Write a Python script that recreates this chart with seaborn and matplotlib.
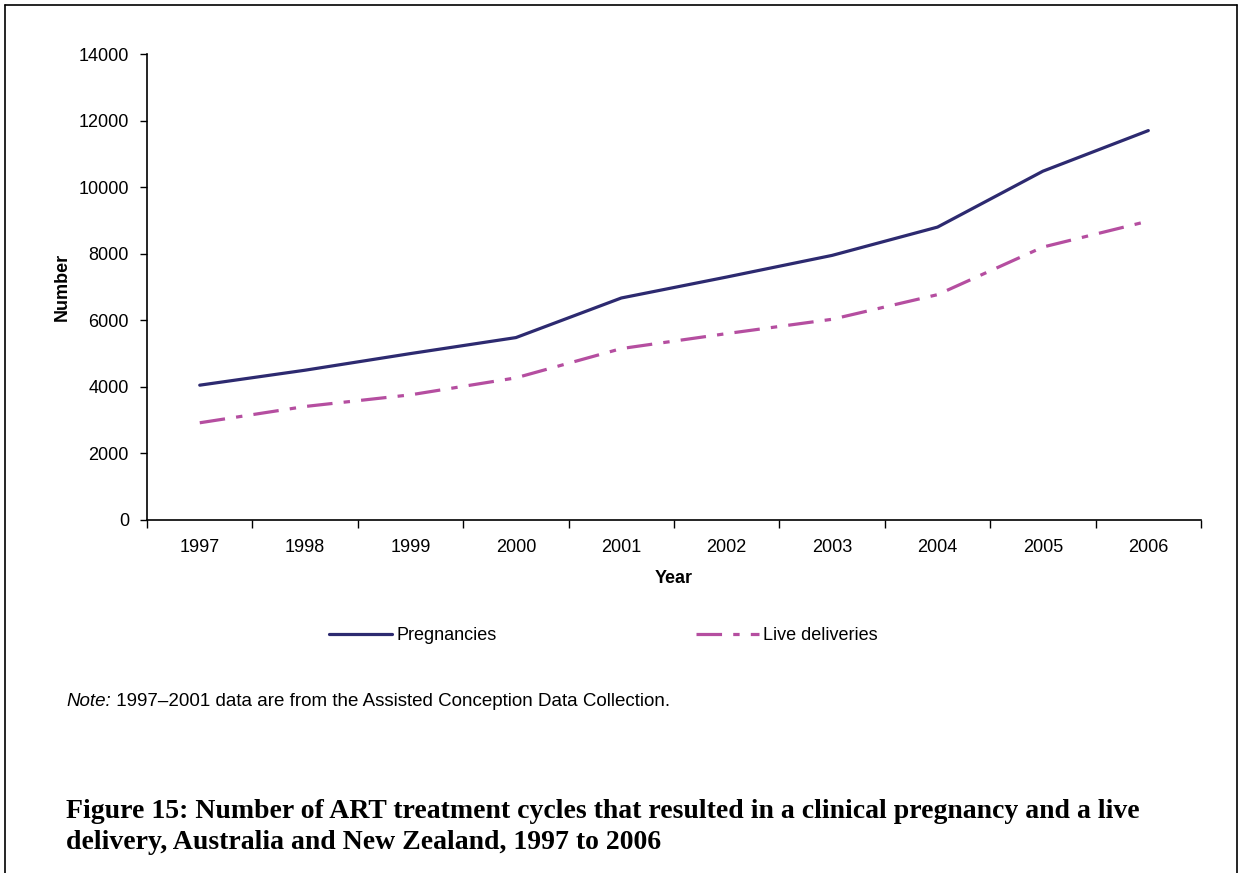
import pandas as pd
import seaborn as sns
import matplotlib.pyplot as plt
from matplotlib.lines import Line2D

# values
years = ['1997', '1998', '1999', '2000', '2001', '2002', '2003', '2004', '2005', '2006']
pregnancies = [4050, 4500, 5000, 5480, 6670, 7300, 7950, 8800, 10480, 11700]
live_deliveries = [2920, 3410, 3760, 4270, 5150, 5600, 6030, 6770, 8200, 8980]

df = pd.DataFrame({'Year': years * 2,
                   'Number': pregnancies + live_deliveries,
                   'Series': ['Pregnancies'] * len(years) + ['Live deliveries'] * len(years)})

sns.set_style('white')
plt.rcParams['font.family'] = ['Liberation Sans', 'DejaVu Sans']
plt.rcParams['text.color'] = 'black'
plt.rcParams['xtick.color'] = 'black'
plt.rcParams['ytick.color'] = 'black'

fig = plt.figure(figsize=(12.42, 8.73), dpi=100)
ax = fig.add_axes([0.1184, 0.4044, 0.8486, 0.5337])

palette = {'Pregnancies': '#2d2a70', 'Live deliveries': '#b54ea0'}
dashes = {'Pregnancies': '', 'Live deliveries': (8, 3.5, 2, 3.5)}
sns.lineplot(data=df, x='Year', y='Number', hue='Series', style='Series',
             palette=palette, dashes=dashes, linewidth=2.3, ax=ax, sort=False)

handles, labels = ax.get_legend_handles_labels()
ax.get_legend().remove()

ax.set_xlim(-0.5, len(years) - 0.5)
ax.set_ylim(0, 14000)
ax.set_yticks(range(0, 14001, 2000))
ax.set_yticklabels([str(v) for v in range(0, 14001, 2000)], fontsize=13)

# ticks between categories, labels centred on categories
ax.set_xticks([i - 0.5 for i in range(len(years) + 1)])
ax.set_xticklabels([])
ax.set_xticks(range(len(years)), minor=True)
ax.set_xticklabels(years, minor=True, fontsize=13)
ax.tick_params(axis='x', which='major', direction='out', length=6, width=1, bottom=True)
ax.tick_params(axis='x', which='minor', length=0, pad=14)
ax.tick_params(axis='y', direction='out', length=5, width=1, left=True, pad=8)

sns.despine(ax=ax)
for s in ['left', 'bottom']:
    ax.spines[s].set_color('black')
    ax.spines[s].set_linewidth(1.2)

ax.set_xlabel('')
ax.set_ylabel('')
fig.text(0.5427, 0.3368, 'Year', ha='center', va='center', fontsize=13, fontweight='bold')
fig.text(0.0499, 0.671, 'Number', ha='center', va='center', rotation=90, fontsize=13, fontweight='bold')

fig.legend(handles, labels, loc='center', bbox_to_anchor=(0.486, 0.2715), ncol=2,
           frameon=False, fontsize=13, handlelength=3.5, handletextpad=0.25,
           columnspacing=11.0)

note = fig.text(0.0531, 0.197, 'Note:', ha='left', va='center', fontsize=13.5, style='italic')
fig.canvas.draw()
bb = note.get_window_extent().transformed(fig.transFigure.inverted())
fig.text(bb.x1, 0.197, ' 1997\u20132001 data are from the Assisted Conception Data Collection.',
         ha='left', va='center', fontsize=13.5)

fig.text(0.0531, 0.0845,
         'Figure 15: Number of ART treatment cycles that resulted in a clinical pregnancy and a live\n'
         'delivery, Australia and New Zealand, 1997 to 2006',
         ha='left', va='top', fontsize=20, fontweight='bold', family='Liberation Serif', linespacing=1.3)

# page frame
for xs, ys in [([0.004, 0.004], [0, 0.9943]), ([0.004, 0.996], [0.9943, 0.9943]), ([0.996, 0.996], [0, 0.9943])]:
    fig.add_artist(Line2D(xs, ys, color='black', linewidth=1.2, transform=fig.transFigure))

fig.savefig('out.png', dpi=100)
